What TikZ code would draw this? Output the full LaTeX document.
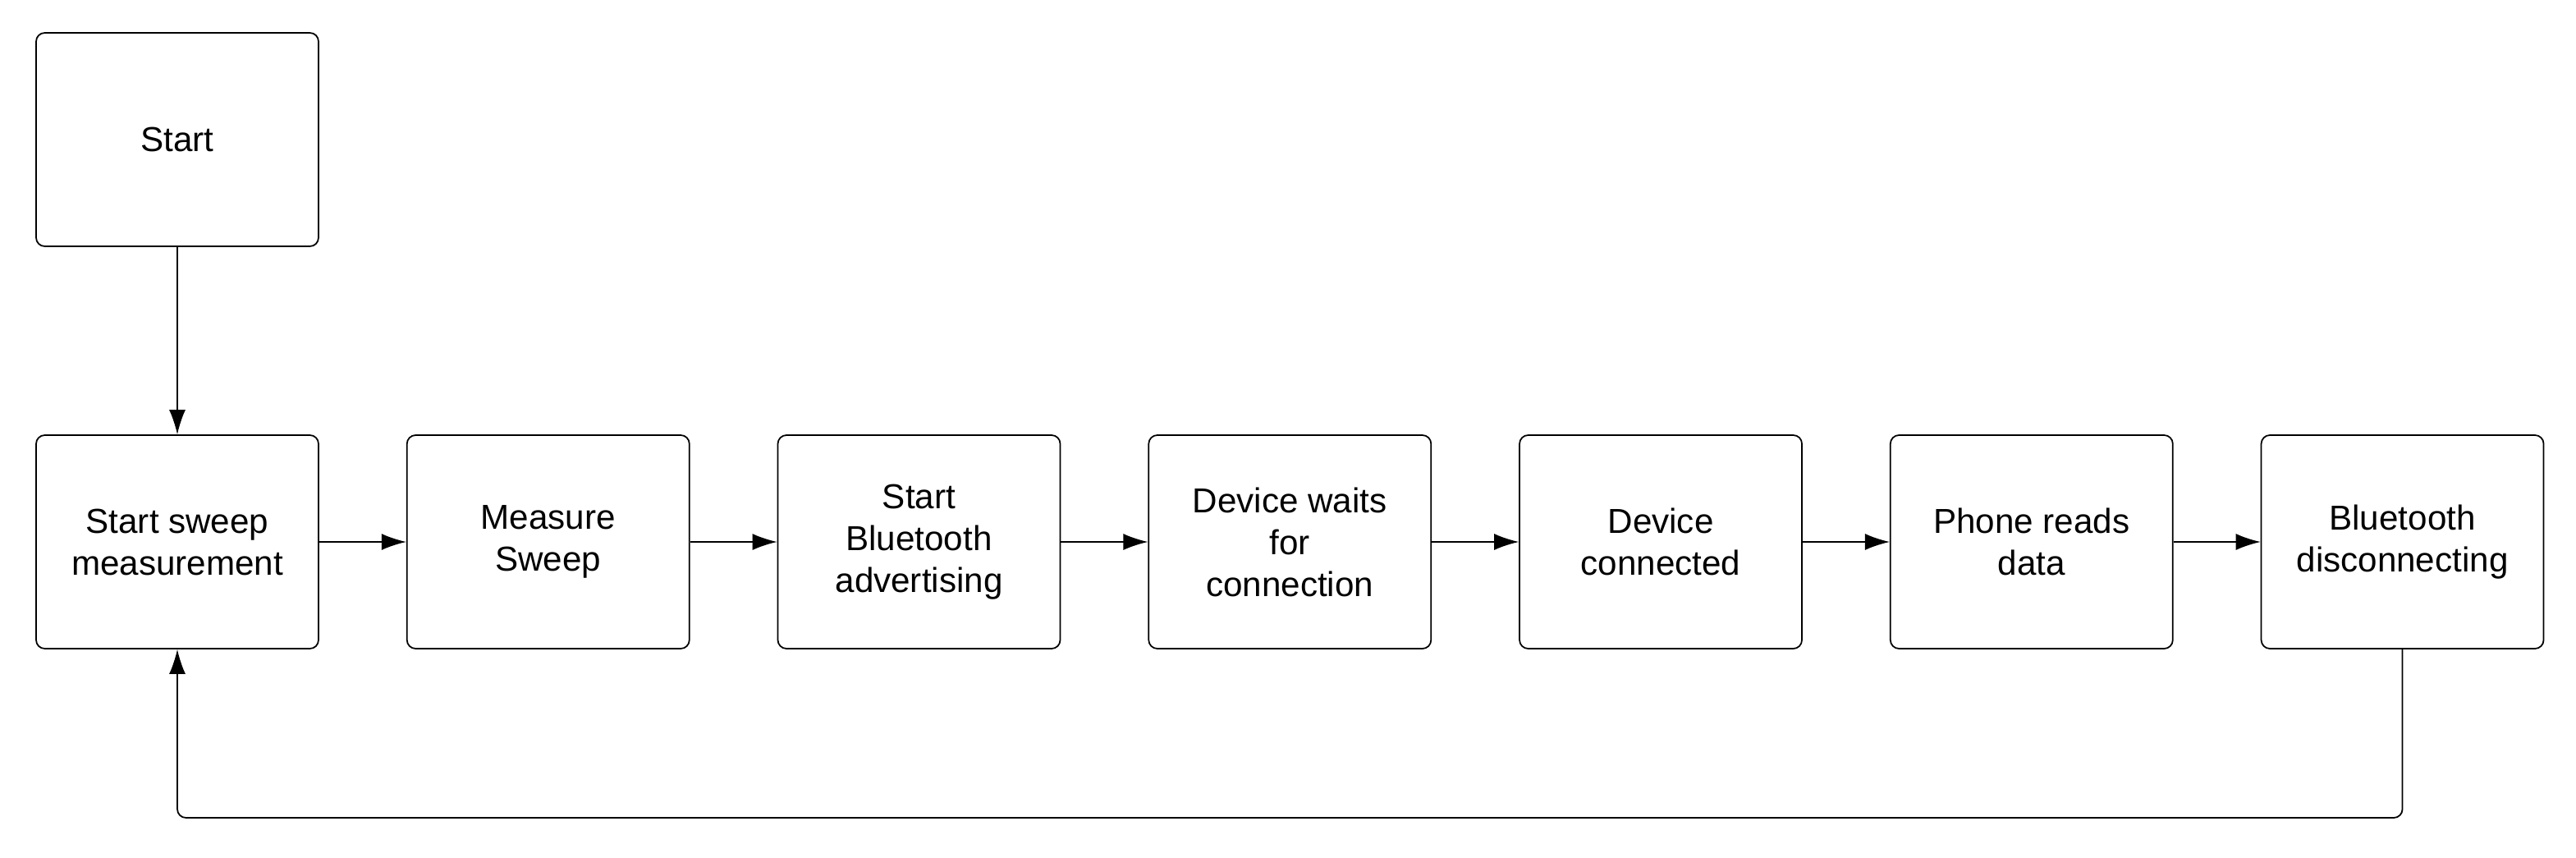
\documentclass[tikz,border=0pt]{standalone}
\usepackage{fontspec}
\setmainfont{Liberation Sans}
\usetikzlibrary{positioning,arrows.meta}
\begin{document}
\begin{tikzpicture}[font=\fontsize{12}{14.5}\selectfont]
        % Setup the style for the steps
        \tikzset{step style/.style={draw, rounded corners=3pt,
                                    minimum width=3.44cm,
                                    minimum height=2.6cm,
                                    align=center, line width=0.5pt},
                 flow/.style={-{Latex[length=3mm,width=2mm]}, line width=0.5pt}}
        \useasboundingbox (0,0) rectangle (31.38,10.44);

        % Draw the steps
        \node[step style] at (2.16, 8.74) (start) {Start};
        \node[step style] at (2.16, 3.84) (sweep) {Start sweep\\measurement};
        \node[step style, right=1.06cm of sweep] (measure) {Measure\\Sweep};
        \node[step style, right=1.06cm of measure] (advert) {Start\\Bluetooth\\advertising};
        \node[step style, right=1.06cm of advert] (waits) {Device waits\\for\\connection};
        \node[step style, right=1.06cm of waits] (connected) {Device\\connected};
        \node[step style, right=1.06cm of connected] (reads) {Phone reads\\data};
        \node[step style, right=1.06cm of reads] (disconnect) {Bluetooth\\disconnecting};
        \coordinate (loopR) at (disconnect.south |- 0,0.48);
        \coordinate (loopL) at (sweep.south |- 0,0.48);

        % Connect the steps with arrows
        \draw[flow] (start) -- (sweep);
        \draw[flow] (sweep) -- (measure);
        \draw[flow] (measure) -- (advert);
        \draw[flow] (advert) -- (waits);
        \draw[flow] (waits) -- (connected);
        \draw[flow] (connected) -- (reads);
        \draw[flow] (reads) -- (disconnect);
        \draw[flow, rounded corners=3pt] (disconnect.south) -- (loopR) -- (loopL) -- (sweep.south);
\end{tikzpicture}
\end{document}
